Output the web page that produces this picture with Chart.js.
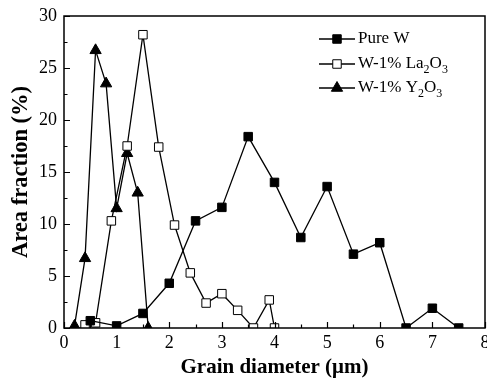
<!DOCTYPE html>
<html><head><meta charset="utf-8">
<script src="https://cdn.jsdelivr.net/npm/chart.js@4"></script>
<style>html,body{margin:0;padding:0;background:#fff;}#wrap{width:487px;height:382px;}</style>
</head><body><div id="wrap"><canvas id="c" width="487" height="382"></canvas></div>
<script>
const diameterW = [0.5,1.0,1.5,2.0,2.5,3.0,3.5,4.0,4.5,5.0,5.5,6.0,6.5,7.0,7.5];
const areaW = [0.7,0.2,1.4,4.3,10.3,11.6,18.4,14.0,8.7,13.6,7.1,8.2,0,1.9,0];
const diameterLa = [0.4,0.6,0.9,1.2,1.5,1.8,2.1,2.4,2.7,3.0,3.3,3.6,3.9,4.0];
const areaLa = [0.3,0.5,10.3,17.5,28.2,17.4,9.9,5.3,2.4,3.3,1.7,0,2.7,0];
const diameterY = [0.2,0.4,0.6,0.8,1.0,1.2,1.4,1.6];
const areaY = [0.2,6.7,26.7,23.5,11.5,16.8,13.0,0];
const xTicks = [0,1,2,3,4,5,6,7,8];
const yTicks = [0,5,10,15,20,25,30];
const seriesNames = [["Pure W"],["W-1% La","2","O","3"],["W-1% Y","2","O","3"]];

const pts = (xs, ys) => xs.map((x,i)=>({x, y: ys[i]}));
const FONT = "'Liberation Serif', 'Times New Roman', serif";
const zeroPad = () => ({left: 0, top: 0, right: 0, bottom: 0});

const framePlugin = {
  id: 'frame',
  afterDatasetsDraw(chart) {
    const {ctx, chartArea: a, scales: {x, y}} = chart;
    ctx.save();
    ctx.strokeStyle = '#000';
    ctx.lineWidth = 1.5;
    ctx.strokeRect(a.left, a.top, a.right - a.left, a.bottom - a.top);
    ctx.lineWidth = 1.2;
    ctx.beginPath();
    for (let v = 0; v <= 8; v += 0.5) {
      const px = Math.round(x.getPixelForValue(v)) + 0.5;
      const len = (v % 1 === 0) ? 6 : 3.5;
      ctx.moveTo(px, a.bottom); ctx.lineTo(px, a.bottom - len);
    }
    for (let v = 0; v <= 30; v += 2.5) {
      const py = Math.round(y.getPixelForValue(v)) + 0.5;
      const len = (v % 5 === 0) ? 6 : 3.5;
      ctx.moveTo(a.left, py); ctx.lineTo(a.left + len, py);
    }
    ctx.stroke();
    // legend
    const rows = [39, 64, 88];
    const styles = chart.data.datasets;
    rows.forEach((ry, i) => {
      const ds = styles[i];
      ctx.strokeStyle = '#000';
      ctx.lineWidth = 1.3;
      ctx.beginPath(); ctx.moveTo(319, ry); ctx.lineTo(355, ry); ctx.stroke();
      ctx.fillStyle = ds.pointBackgroundColor;
      ctx.strokeStyle = '#000';
      ctx.lineWidth = 1;
      Chart.helpers.drawPoint(ctx, {pointStyle: ds.pointStyle, radius: ds.pointRadius, borderWidth: 1}, 337, ry);
      ctx.fillStyle = '#000';
      ctx.textBaseline = 'middle';
      ctx.textAlign = 'left';
      let tx = 358;
      const parts = seriesNames[i];
      parts.forEach((p, k) => {
        const sub = (k % 2 === 1);
        ctx.font = (sub ? '12px ' : '17px ') + FONT;
        ctx.fillText(p, tx, ry + (sub ? 6 : 0));
        tx += ctx.measureText(p).width;
      });
    });
    ctx.restore();
  }
};

const common = {showLine: true, tension: 0, borderColor: '#000', borderWidth: 1.3, pointBorderColor: '#000', pointBorderWidth: 1, pointHoverRadius: 0};

new Chart(document.getElementById('c'), {
  type: 'scatter',
  data: { datasets: [
    Object.assign({label: 'Pure W', data: pts(diameterW, areaW), pointStyle: 'rect', pointRadius: 6, pointBackgroundColor: '#000'}, common),
    Object.assign({label: 'W-1% La2O3', data: pts(diameterLa, areaLa), pointStyle: 'rect', pointRadius: 6, pointBackgroundColor: '#fff'}, common),
    Object.assign({label: 'W-1% Y2O3', data: pts(diameterY, areaY), pointStyle: 'triangle', pointRadius: 6.5, pointBackgroundColor: '#000'}, common)
  ]},
  options: {
    responsive: false, animation: false, events: [],
    layout: {autoPadding: false, padding: {top: 16, right: 2, left: 0, bottom: 0}},
    plugins: {legend: {display: false}, tooltip: {enabled: false}},
    scales: {
      x: {type: 'linear', min: 0, max: 8,
        afterBuildTicks: s => { s.ticks = xTicks.map(v => ({value: v})); },
        afterFit: s => { s.height = 54; s.paddingLeft = 0; s.paddingRight = 0; s.getPadding = zeroPad; },
        grid: {display: false, drawTicks: false}, border: {display: false},
        ticks: {color: '#000', font: {family: FONT, size: 18}, padding: 4, maxRotation: 0},
        title: {display: true, text: 'Grain diameter (μm)', color: '#000', font: {family: FONT, size: 21, weight: 'bold'}, padding: {top: 0, bottom: 2}}
      },
      y: {min: 0, max: 30,
        afterBuildTicks: s => { s.ticks = yTicks.map(v => ({value: v})); },
        afterFit: s => { s.width = 64; s.paddingTop = 0; s.paddingBottom = 0; s.getPadding = zeroPad; },
        grid: {display: false, drawTicks: false}, border: {display: false},
        ticks: {color: '#000', font: {family: FONT, size: 18}, padding: 7},
        title: {display: true, text: 'Area fraction (%)', color: '#000', font: {family: FONT, size: 22.5, weight: 'bold'}, padding: {top: 8, bottom: 0}}
      }
    }
  },
  plugins: [framePlugin]
});
</script></body></html>
